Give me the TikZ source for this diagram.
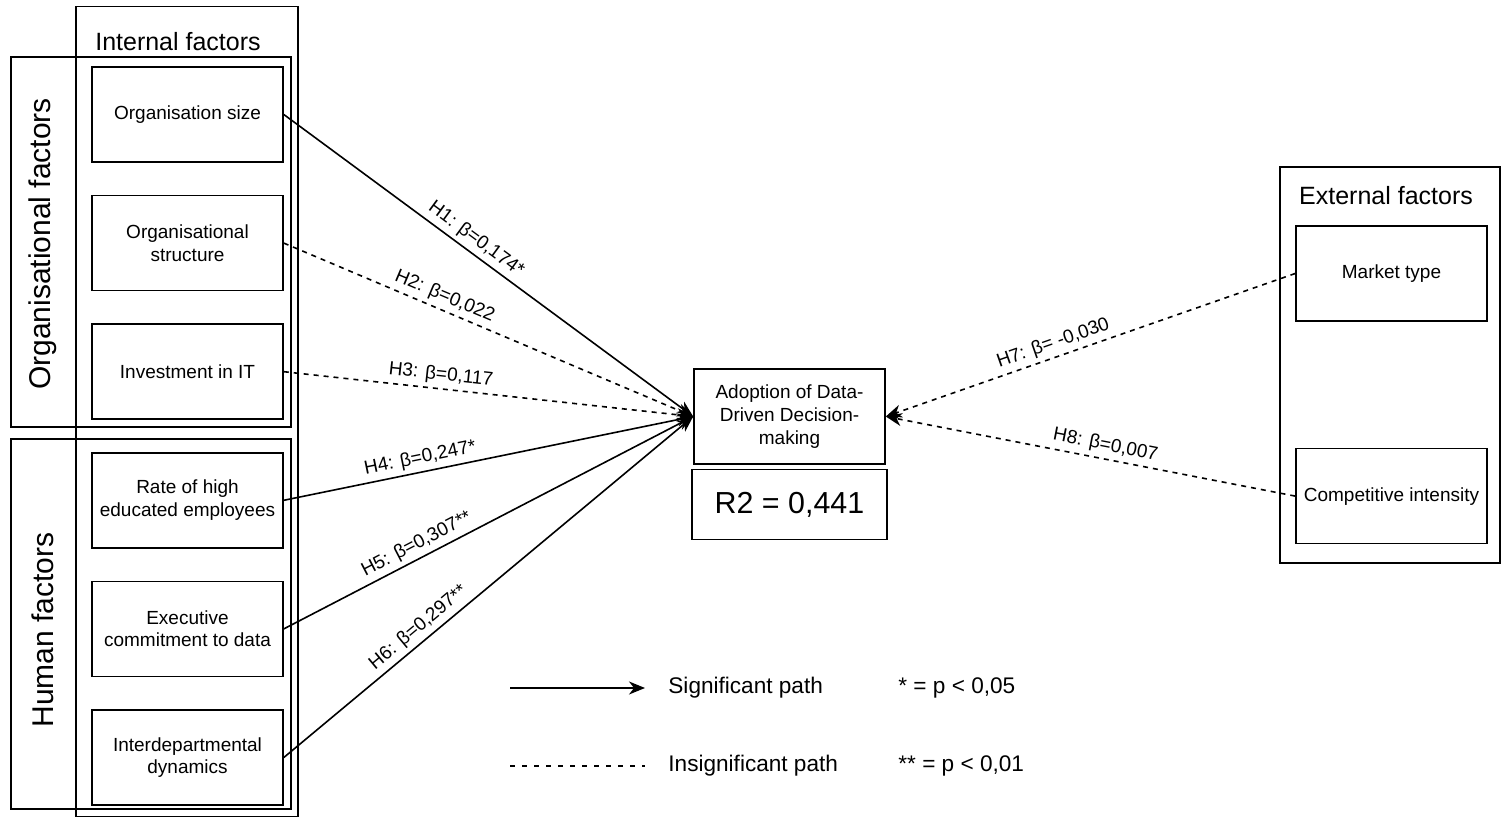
\documentclass[tikz,border=0pt]{standalone}
\usepackage{fontspec}
\setmainfont{Liberation Sans}
\usepackage{xcolor}
\usepackage{tikz}
\usetikzlibrary{positioning,arrows.meta}
\definecolor{pLine}{RGB}{0,0,0}
\tikzset{
  factor/.style={rectangle, draw=pLine, line width=0.8pt, minimum width=95.5pt,
                 minimum height=47.5pt, align=center, inner sep=2pt,
                 font=\fontsize{9.5}{11.3}\selectfont},
  groupbox/.style={rectangle, draw=pLine, line width=0.8pt, inner sep=0pt},
  grouptitle/.style={font=\fontsize{12.5}{15}\selectfont, inner sep=0pt},
  sidetitle/.style={rotate=90, font=\fontsize{15}{18}\selectfont, inner sep=0pt},
  outcome/.style={factor},
  rsq/.style={rectangle, draw=pLine, line width=0.8pt, minimum width=97.5pt,
              minimum height=35pt, font=\fontsize{15.2}{18}\selectfont},
  sig/.style={-{Stealth[length=8pt,width=6.5pt,inset=2.5pt]}, draw=pLine, line width=0.8pt},
  insig/.style={sig, dash pattern=on 2.5pt off 2.5pt},
  hlbl/.style={font=\fontsize{9.5}{11}\selectfont, sloped, above, inner sep=2pt},
  legtxt/.style={font=\fontsize{11.3}{13.5}\selectfont, anchor=west, inner sep=0pt},
}

\begin{document}
\begin{tikzpicture}[x=0.5pt, y=-0.5pt]
  \useasboundingbox (0,0) rectangle (1504,817);

  % --- grouping frames and their titles ---
  \node[groupbox, minimum width=111pt, minimum height=405pt] (internal) at (187,411.5) {};
  \node[groupbox, minimum width=140pt, minimum height=185pt] (orgframe) at (151,242) {};
  \node[groupbox, minimum width=140pt, minimum height=185pt] (humframe) at (151,624) {};
  \node[groupbox, minimum width=110pt, minimum height=198pt] (external) at (1390,365) {};
  \node[grouptitle] (internaltitle) at (178,42) {Internal factors};
  \node[grouptitle] (externaltitle) at (1386,196) {External factors};
  \node[sidetitle] (orgtitle) at (43,244) {Organisational factors};
  \node[sidetitle] (humtitle) at (43,630) {Human factors};

  % --- internal factors (organisational + human) ---
  \node[factor] (size) at (187.5,114.5) {Organisation size};
  \node[factor, below=16pt of size] (struct) {Organisational\\structure};
  \node[factor, below=16pt of struct] (invest) {Investment in IT};
  \node[factor, below=16pt of invest] (educ) {Rate of high\\educated employees};
  \node[factor, below=16pt of educ] (commit) {Executive\\commitment to data};
  \node[factor, below=16pt of commit] (interdep) {Interdepartmental\\dynamics};

  % --- external factors ---
  \node[factor] (market) at (1391.5,273.5) {Market type};
  \node[factor, below=63pt of market] (compet) {Competitive intensity};

  % --- dependent variable ---
  \node[outcome] (adopt) at (789.5,416.5) {Adoption of Data-\\Driven Decision-\\making};
  \node[rsq, below=2pt of adopt] (rsquare) {R2 = 0,441};

  % --- hypothesised paths ---
  \draw[sig] (size.east) -- node[hlbl, pos=0.45] {H1: β=0,174*} (adopt.west);
  \draw[insig] (struct.east) -- node[hlbl, pos=0.38] {H2: β=0,022} (adopt.west);
  \draw[insig] (invest.east) -- node[hlbl, pos=0.38] {H3: β=0,117} (adopt.west);
  \draw[sig] (educ.east) -- node[hlbl, pos=0.34] {H4: β=0,247*} (adopt.west);
  \draw[sig] (commit.east) -- node[hlbl, pos=0.34] {H5: β=0,307**} (adopt.west);
  \draw[sig] (interdep.east) -- node[hlbl, pos=0.35] {H6: β=0,297**} (adopt.west);
  \draw[insig] (market.west) -- node[hlbl, pos=0.58] {H7: β= -0,030} (adopt.east);
  \draw[insig] (compet.west) -- node[hlbl, pos=0.47] {H8: β=0,007} (adopt.east);

  % --- legend ---
  \coordinate (sigstart) at (510,688);
  \coordinate (sigend) at (645,688);
  \coordinate (insstart) at (510,766);
  \coordinate (insend) at (645,766);
  \draw[sig] (sigstart) -- (sigend);
  \draw[insig, -, dash pattern=on 2.5pt off 3.5pt] (insstart) -- (insend);
  \node[legtxt] (sigtxt) at (668,688) {Significant path};
  \node[legtxt] (instxt) at (668,766) {Insignificant path};
  \node[legtxt] (pfive) at (898,688) {* = p < 0,05};
  \node[legtxt] (pone) at (898,766) {** = p < 0,01};
\end{tikzpicture}
\end{document}
